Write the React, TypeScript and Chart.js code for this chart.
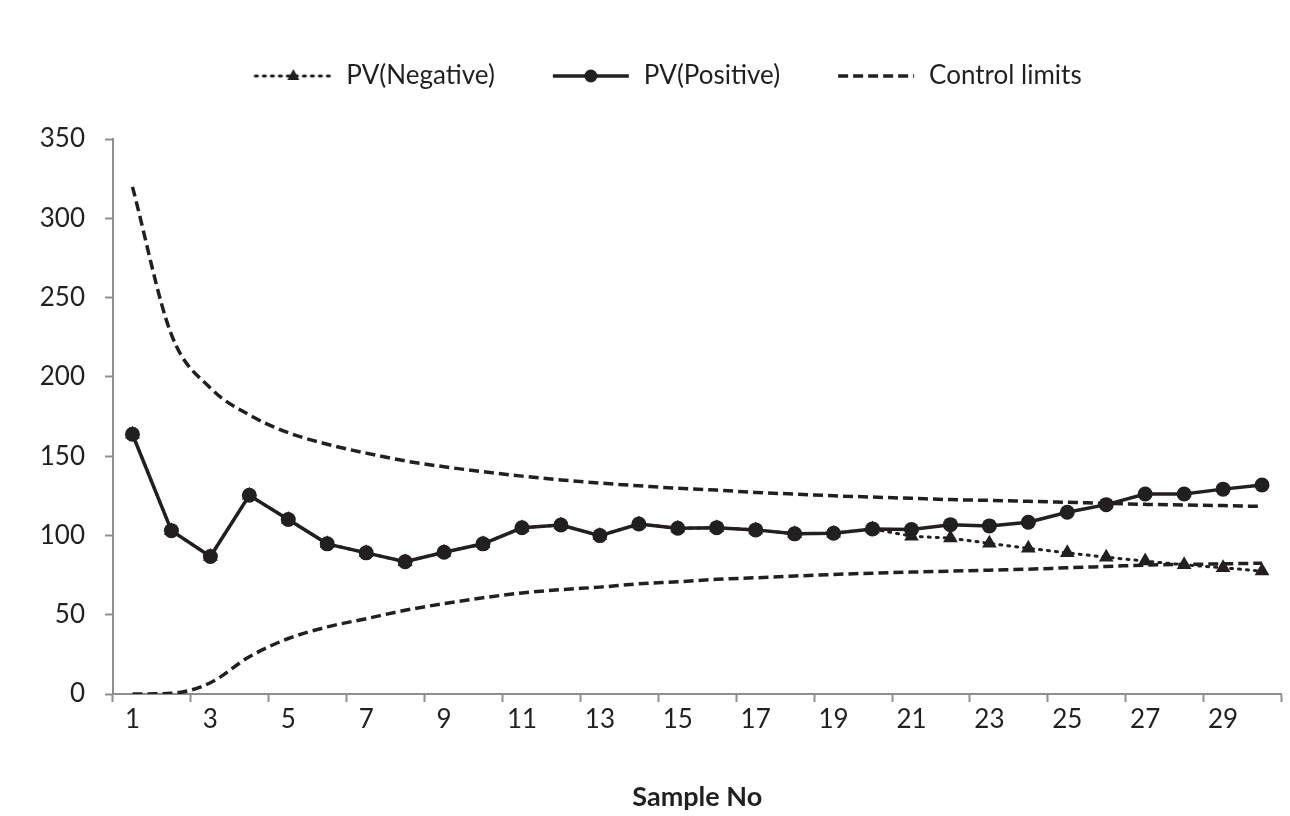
import { useEffect, useRef } from "react";
import { Chart, registerables } from "chart.js";

Chart.register(...registerables);

const INK = "#231f20";
const AXIS_GREY = "#8e8e8e";
const FONT = "Lato, 'Open Sans', sans-serif";

const sampleNos = [
  "1", "2", "3", "4", "5", "6", "7", "8", "9", "10",
  "11", "12", "13", "14", "15", "16", "17", "18", "19", "20",
  "21", "22", "23", "24", "25", "26", "27", "28", "29", "30",
];

const pvPositive = [
  163.8, 103, 86.7, 125.3, 110, 94.7, 89, 83.4, 89.4, 94.7,
  104.8, 106.6, 99.9, 107.2, 104.5, 104.9, 103.5, 101, 101.4, 104.1,
  103.7, 106.8, 106, 108.3, 114.6, 119.4, 126.1, 126.1, 129.2, 131.8,
];

const pvNegative = [
  163.8, 103, 86.7, 125.3, 110, 94.7, 89, 83.4, 89.4, 94.7,
  104.8, 106.6, 99.9, 107.2, 104.5, 104.9, 103.5, 101, 101.4, 104.1,
  99.5, 98.3, 95, 91.9, 89, 86.3, 83.8, 81.5, 79.6, 77.5,
];

const upperLimit = [
  319.8, 226.6, 193, 176, 164.8, 157.5, 151.9, 147, 143.3, 140.2,
  137.4, 135, 133, 131.3, 129.7, 128.6, 127.1, 126.1, 125, 124.2,
  123.4, 122.6, 122.1, 121.5, 120.9, 120.2, 119.6, 119.2, 118.8, 118.3,
];

const lowerLimit = [
  0, 0.4, 7.1, 23.5, 35, 42.3, 47.5, 52.8, 57, 60.7,
  63.7, 65.8, 67.4, 69.5, 70.8, 72.3, 73.3, 74.4, 75.4, 76.2,
  76.9, 77.5, 78.1, 78.7, 79.6, 80.4, 81.3, 81.7, 82.1, 82.5,
];

const legendNames = ["PV(Negative)", "PV(Positive)", "Control limits"];

// little line + marker pictures for the legend, like the spreadsheet ones
function legendIcon(kind: "dotted" | "solid" | "dashed"): HTMLCanvasElement {
  const c = document.createElement("canvas");
  c.width = 86;
  c.height = 26;
  const ctx = c.getContext("2d")!;
  ctx.strokeStyle = INK;
  ctx.fillStyle = INK;
  ctx.lineWidth = kind === "dotted" ? 3 : 3.5;
  if (kind === "dotted") {
    ctx.setLineDash([2, 6]);
    ctx.lineCap = "round";
  } else if (kind === "dashed") {
    ctx.setLineDash([10, 5]);
  }
  ctx.beginPath();
  ctx.moveTo(8, 13);
  ctx.lineTo(84, 13);
  ctx.stroke();
  ctx.setLineDash([]);
  if (kind === "dotted") {
    ctx.beginPath();
    ctx.moveTo(46, 6);
    ctx.lineTo(52, 17);
    ctx.lineTo(40, 17);
    ctx.closePath();
    ctx.fill();
  } else if (kind === "solid") {
    ctx.beginPath();
    ctx.arc(46, 13, 6.5, 0, Math.PI * 2);
    ctx.fill();
  }
  return c;
}

// leave room under the legend, as the original has a wide gap there
const legendGap = {
  id: "legendGap",
  beforeInit(chart: any) {
    const fit = chart.legend.fit;
    chart.legend.fit = function () {
      fit.call(this);
      this.height += 40;
    };
  },
};

export default function App() {
  const canvasRef = useRef<HTMLCanvasElement>(null);
  const chartRef = useRef<Chart | null>(null);

  useEffect(() => {
    document.body.style.margin = "0";
    if (!canvasRef.current) return;
    if (chartRef.current) chartRef.current.destroy();

    const icons = [legendIcon("dotted"), legendIcon("solid"), legendIcon("dashed")];

    chartRef.current = new Chart(canvasRef.current, {
      type: "line",
      data: {
        labels: sampleNos,
        datasets: [
          {
            label: legendNames[0],
            data: pvNegative,
            borderColor: INK,
            backgroundColor: INK,
            borderWidth: 3,
            borderDash: [2, 6],
            borderCapStyle: "round",
            pointStyle: "triangle",
            pointRadius: 8.5,
            pointBorderWidth: 0,
            tension: 0,
            order: 1,
          },
          {
            label: legendNames[1],
            data: pvPositive,
            borderColor: INK,
            backgroundColor: INK,
            borderWidth: 3.5,
            pointStyle: "circle",
            pointRadius: 7.5,
            pointBorderWidth: 0,
            tension: 0,
            order: 0,
          },
          {
            label: legendNames[2],
            data: upperLimit,
            borderColor: INK,
            borderWidth: 3.5,
            borderDash: [10, 5],
            pointRadius: 0,
            cubicInterpolationMode: "monotone",
            order: 2,
          },
          {
            label: "lower",
            data: lowerLimit,
            borderColor: INK,
            borderWidth: 3.5,
            borderDash: [10, 5],
            pointRadius: 0,
            cubicInterpolationMode: "monotone",
            order: 3,
          },
        ],
      },
      options: {
        responsive: true,
        maintainAspectRatio: false,
        animation: false,
        layout: { padding: { top: 13, left: 40, right: 1, bottom: 0 } },
        plugins: {
          tooltip: { enabled: false },
          legend: {
            position: "top",
            labels: {
              usePointStyle: true,
              pointStyleWidth: 86,
              padding: 50,
              color: INK,
              font: { family: FONT, size: 26 },
              generateLabels: () =>
                legendNames.map((name, i) => ({
                  text: name,
                  pointStyle: icons[i] as any,
                  fillStyle: INK,
                  strokeStyle: INK,
                  lineWidth: 0,
                  fontColor: INK,
                  hidden: false,
                  datasetIndex: i,
                })),
            },
          },
        },
        scales: {
          x: {
            offset: true,
            afterFit: (scale: any) => {
              scale.height = 122;
            },
            border: { color: AXIS_GREY, width: 2 },
            grid: {
              offset: true,
              drawOnChartArea: false,
              tickLength: 8,
              tickWidth: 2,
              tickColor: (ctx: any) =>
                ctx.index === undefined || ctx.index % 2 === 0 ? AXIS_GREY : "transparent",
            },
            ticks: {
              autoSkip: false,
              maxRotation: 0,
              padding: 2,
              color: INK,
              font: { family: FONT, size: 26 },
              callback: (_v: any, i: number) => (i % 2 === 0 ? sampleNos[i] : ""),
            },
            title: {
              display: true,
              text: "Sample No",
              color: INK,
              font: { family: FONT, size: 27, weight: "bold" },
              padding: { top: 0, bottom: 3 },
            },
          },
          y: {
            min: 0,
            max: 350,
            afterFit: (scale: any) => {
              scale.width = 73;
            },
            border: { color: AXIS_GREY, width: 2 },
            grid: {
              drawOnChartArea: false,
              tickLength: 8,
              tickWidth: 2,
              tickColor: AXIS_GREY,
            },
            ticks: {
              stepSize: 50,
              padding: 20,
              color: INK,
              font: { family: FONT, size: 26 },
            },
          },
        },
      },
      plugins: [legendGap],
    });

    return () => {
      chartRef.current?.destroy();
      chartRef.current = null;
    };
  }, []);

  return (
    <div style={{ position: "relative", width: 1290, height: 816, background: "#fff" }}>
      <canvas ref={canvasRef} />
    </div>
  );
}
